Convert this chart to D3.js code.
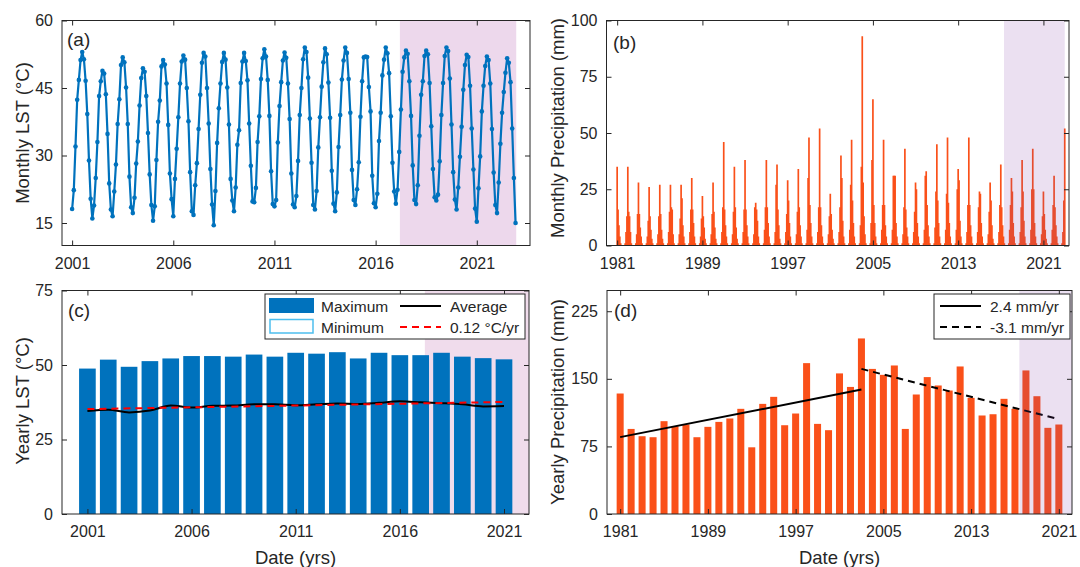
<!DOCTYPE html>
<html>
<head>
<meta charset="utf-8">
<script src="https://cdn.jsdelivr.net/npm/d3@7"></script>
<style>
  body { margin: 0; background: #fff; }
  svg { display: block; font-family: "Liberation Sans", Arial, Helvetica, sans-serif; }
</style>
</head>
<body>
<svg id="fig" width="1080" height="567"></svg>
<script>
// ---------------- data ----------------
// (a) monthly land surface temperature, one row per year (Jan..Dec), 2001-2022
const lstStartYear = 2001;
const monthlyLST = [
  [18.1, 22.3, 32.0, 42.4, 46.8, 51.2, 53.0, 51.4, 46.6, 39.2, 28.9, 20.4],
  [16.0, 18.9, 25.0, 33.0, 43.2, 46.5, 48.8, 48.2, 43.6, 34.8, 23.8, 18.0],
  [16.5, 22.0, 28.0, 37.0, 42.5, 50.1, 51.8, 50.7, 45.1, 37.0, 25.3, 18.5],
  [17.2, 20.6, 28.2, 33.1, 41.1, 47.2, 49.4, 48.6, 43.2, 35.0, 25.8, 19.0],
  [15.5, 18.7, 29.0, 37.5, 42.2, 49.8, 51.2, 50.2, 46.0, 36.8, 26.0, 20.3],
  [16.5, 24.8, 31.5, 38.5, 46.0, 50.9, 52.2, 51.3, 45.0, 37.6, 26.3, 17.6],
  [16.8, 23.4, 28.3, 35.9, 43.5, 50.6, 52.8, 52.0, 45.0, 37.1, 27.0, 19.1],
  [14.5, 22.1, 32.8, 40.5, 46.0, 50.8, 52.8, 51.3, 45.1, 36.9, 24.8, 20.0],
  [17.6, 22.9, 32.4, 35.6, 46.1, 50.9, 52.8, 51.0, 46.7, 37.1, 27.7, 19.8],
  [19.6, 22.8, 33.0, 38.7, 47.0, 51.6, 53.6, 52.0, 46.8, 38.8, 26.5, 19.2],
  [18.7, 20.1, 32.9, 41.0, 46.3, 51.1, 52.9, 51.7, 46.0, 38.1, 26.0, 19.1],
  [18.5, 21.0, 28.8, 39.0, 45.0, 51.4, 54.0, 53.0, 47.3, 38.2, 28.4, 19.0],
  [18.0, 22.1, 31.8, 38.5, 45.3, 50.7, 53.8, 52.5, 46.2, 38.4, 26.6, 19.3],
  [17.6, 21.8, 31.9, 39.0, 46.9, 51.1, 54.0, 52.8, 47.0, 39.5, 26.8, 20.1],
  [19.0, 22.5, 28.5, 38.6, 46.5, 51.8, 52.0, 51.9, 45.2, 39.8, 25.5, 19.4],
  [18.5, 21.5, 33.2, 39.5, 47.8, 51.3, 54.0, 52.7, 48.3, 38.7, 28.4, 22.0],
  [19.3, 22.4, 30.8, 40.2, 48.6, 51.8, 53.3, 52.6, 46.5, 38.8, 27.8, 20.1],
  [19.2, 23.4, 34.4, 43.5, 46.5, 52.1, 53.3, 52.5, 46.1, 36.5, 27.0, 20.7],
  [20.0, 21.3, 28.7, 39.0, 46.1, 52.1, 54.0, 53.2, 47.1, 36.9, 26.3, 20.2],
  [18.0, 22.9, 29.7, 36.4, 44.6, 50.1, 52.4, 51.9, 45.5, 36.0, 26.9, 18.2],
  [15.3, 22.7, 29.8, 39.8, 45.5, 49.9, 52.0, 51.2, 46.0, 35.9, 26.2, 19.0],
  [17.2, 24.0, 32.6, 39.5, 44.1, 48.4, 51.6, 50.6, 46.3, 36.0, 25.0, 15.0]
];

// (b) monthly precipitation (mm), one row per year (Jan..Dec), 1981-2022 plus Jan 2023
const precipStartYear = 1981;
const monthlyPrecip = [
  [35, 16, 9, 4, 1, 0, 0, 0, 0, 1, 6, 13],
  [35, 15, 13, 6, 1, 0, 0, 0, 0, 1, 5, 14],
  [28, 14, 8, 4, 1, 0, 0, 0, 0, 1, 4, 11],
  [26, 13, 7, 3, 1, 0, 0, 0, 0, 1, 5, 13],
  [27, 14, 7, 3, 1, 0, 0, 0, 0, 1, 6, 15],
  [27, 17, 16, 5, 1, 0, 0, 0, 0, 1, 5, 12],
  [27, 21, 9, 4, 1, 0, 0, 0, 0, 1, 6, 16],
  [30, 16, 10, 4, 1, 0, 0, 0, 0, 1, 4, 12],
  [22, 13, 8, 3, 1, 0, 0, 0, 0, 1, 5, 14],
  [28, 15, 8, 3, 1, 0, 0, 0, 0, 1, 6, 17],
  [46, 16, 9, 4, 1, 0, 0, 0, 0, 1, 5, 15],
  [35, 17, 8, 3, 1, 0, 0, 0, 0, 1, 6, 16],
  [38, 16, 9, 4, 1, 0, 0, 0, 0, 1, 5, 17],
  [19, 16, 11, 4, 1, 0, 0, 0, 0, 1, 7, 17],
  [38, 17, 10, 4, 1, 0, 0, 0, 0, 1, 6, 27],
  [36, 16, 9, 3, 1, 0, 0, 0, 0, 1, 6, 14],
  [29, 20, 10, 4, 1, 0, 0, 0, 0, 1, 5, 15],
  [34, 17, 9, 4, 1, 0, 0, 0, 0, 1, 7, 30],
  [48, 18, 10, 4, 1, 0, 0, 0, 0, 1, 6, 17],
  [52, 17, 9, 4, 1, 0, 0, 0, 0, 1, 5, 13],
  [23, 14, 7, 3, 1, 0, 0, 0, 0, 1, 6, 17],
  [40, 30, 11, 4, 1, 0, 0, 0, 0, 1, 7, 27],
  [47, 20, 10, 4, 1, 0, 0, 0, 0, 1, 9, 35],
  [93, 28, 13, 5, 1, 0, 0, 0, 0, 1, 10, 38],
  [65, 18, 10, 4, 1, 0, 0, 0, 0, 1, 7, 18],
  [47, 18, 9, 4, 1, 0, 0, 0, 0, 1, 7, 31],
  [31, 31, 10, 4, 1, 0, 0, 0, 0, 1, 5, 17],
  [43, 16, 8, 4, 1, 0, 0, 0, 0, 1, 6, 15],
  [28, 25, 10, 4, 1, 0, 0, 0, 0, 1, 7, 31],
  [33, 18, 9, 4, 1, 0, 0, 0, 0, 1, 8, 24],
  [45, 20, 10, 4, 1, 0, 0, 0, 0, 1, 7, 23],
  [48, 19, 10, 4, 1, 0, 0, 0, 0, 1, 7, 25],
  [34, 29, 11, 4, 1, 0, 0, 0, 0, 1, 6, 18],
  [48, 18, 9, 4, 1, 0, 0, 0, 0, 1, 6, 17],
  [24, 23, 10, 4, 1, 0, 0, 0, 0, 1, 5, 15],
  [28, 20, 9, 3, 1, 0, 0, 0, 0, 1, 6, 18],
  [36, 17, 9, 4, 1, 0, 0, 0, 0, 1, 7, 18],
  [30, 24, 10, 4, 1, 0, 0, 0, 0, 1, 6, 17],
  [38, 24, 11, 4, 1, 0, 0, 0, 0, 1, 7, 25],
  [43, 25, 10, 4, 1, 0, 0, 0, 0, 1, 5, 13],
  [24, 14, 7, 3, 1, 0, 0, 0, 0, 1, 7, 18],
  [31, 17, 9, 4, 1, 0, 0, 0, 0, 1, 6, 20],
  [52]
];

// (c) yearly LST
const yearsLST = [2001, 2002, 2003, 2004, 2005, 2006, 2007, 2008, 2009, 2010, 2011,
                  2012, 2013, 2014, 2015, 2016, 2017, 2018, 2019, 2020, 2021];
const maxLST = [48.8, 51.8, 49.4, 51.3, 52.2, 53.0, 53.0, 52.8, 53.5, 52.8, 54.1,
                53.8, 54.3, 52.2, 54.1, 53.3, 53.3, 54.1, 52.8, 52.3, 51.9];
const avgLST = [34.6, 35.0, 34.1, 34.7, 36.4, 35.7, 36.3, 36.4, 36.8, 36.8, 36.5,
                36.8, 37.1, 36.9, 37.3, 37.8, 37.5, 37.2, 36.8, 36.1, 36.2];
const lstTrendStart = 35.2;   // °C in 2001
const lstTrendSlope = 0.12;   // °C per year

// (d) yearly precipitation (mm)
const yearsPrecip = [1981, 1982, 1983, 1984, 1985, 1986, 1987, 1988, 1989, 1990, 1991,
                     1992, 1993, 1994, 1995, 1996, 1997, 1998, 1999, 2000, 2001, 2002,
                     2003, 2004, 2005, 2006, 2007, 2008, 2009, 2010, 2011, 2012, 2013,
                     2014, 2015, 2016, 2017, 2018, 2019, 2020, 2021];
const yearlyPrecip = [133.7, 94.4, 86.3, 85.2, 103.0, 97.4, 99.3, 85.2, 96.7, 102.2, 106.0,
                      116.7, 74.0, 122.2, 130.0, 98.5, 111.5, 167.4, 100.0, 93.0, 156.0, 141.0,
                      194.8, 161.0, 154.4, 164.8, 94.4, 132.6, 151.9, 142.6, 137.0, 163.7, 128.9,
                      109.3, 110.7, 127.8, 116.7, 159.3, 130.7, 95.6, 99.3];
const wetTrendYears = [1981, 2003];
const wetTrendStart = 85.3;   // mm
const wetTrendSlope = 2.4;    // mm per year
const dryTrendYears = [2003, 2021];
const dryTrendStart = 161.0;  // mm
const dryTrendSlope = -3.1;   // mm per year

// axis ticks
const ticksA_x = [2001, 2006, 2011, 2016, 2021];
const ticksA_y = [15, 30, 45, 60];
const ticksB_x = [1981, 1989, 1997, 2005, 2013, 2021];
const ticksB_y = [0, 25, 50, 75, 100];
const ticksC_y = [0, 25, 50, 75];
const ticksD_y = [0, 75, 150, 225];

// highlighted recent period
const shadeA = [2017.2, 2022.95];
const shadeB = [2017.3, 2023.0];
const shadeC = [2017.2, 2022.2];
const shadeD = [2017.4, 2022.2];

// ---------------- drawing ----------------
const ink = '#262626';
const blue = '#0072BD';
const orange = '#FA5019';
const minEdge = '#4DBEEE';
const tickFont = 16;
const labelFont = 18.5;

const svg = d3.select('#fig');

function drawAxes(g, box, x, y, xt, yt) {
  const styleAxis = sel => {
    sel.select('.domain').remove();
    sel.selectAll('line').attr('stroke', ink).attr('stroke-width', 1);
    sel.selectAll('text').attr('fill', ink).attr('font-size', tickFont)
       .attr('font-family', '"Liberation Sans", Arial, sans-serif');
  };
  g.append('g').attr('transform', `translate(0,${box.b})`)
    .call(d3.axisBottom(x).tickValues(xt).tickSizeInner(-5).tickSizeOuter(0).tickPadding(12).tickFormat(d3.format('d')))
    .call(styleAxis);
  g.append('g').attr('transform', `translate(${box.l},0)`)
    .call(d3.axisLeft(y).tickValues(yt).tickSizeInner(-5).tickSizeOuter(0).tickPadding(9).tickFormat(d3.format('d')))
    .call(styleAxis);
  g.append('g').attr('transform', `translate(0,${box.t})`)
    .call(d3.axisTop(x).tickValues(xt).tickSizeInner(-5).tickSizeOuter(0).tickFormat(() => ''))
    .call(styleAxis);
  g.append('g').attr('transform', `translate(${box.r},0)`)
    .call(d3.axisRight(y).tickValues(yt).tickSizeInner(-5).tickSizeOuter(0).tickFormat(() => ''))
    .call(styleAxis);
  g.append('rect')
    .attr('x', box.l).attr('y', box.t)
    .attr('width', box.r - box.l).attr('height', box.b - box.t)
    .attr('fill', 'none').attr('stroke', ink).attr('stroke-width', 1);
}

function yTitle(text, cx, cy) {
  svg.append('text')
    .attr('transform', `translate(${cx},${cy}) rotate(-90)`)
    .attr('text-anchor', 'middle').attr('dominant-baseline', 'central')
    .attr('font-size', labelFont).attr('fill', ink).text(text);
}

function panelTag(text, x, y) {
  svg.append('text').attr('x', x).attr('y', y)
    .attr('font-size', 19).attr('fill', ink).text(text);
}

function shade(g, box, x, period, color) {
  const x0 = Math.max(box.l, x(period[0]));
  const x1 = Math.min(box.r, x(period[1]));
  g.append('rect')
    .attr('x', x0).attr('y', box.t)
    .attr('width', x1 - x0).attr('height', box.b - box.t)
    .attr('fill', color);
}

// ---- (a) Monthly LST ----
{
  const box = { l: 62, r: 530, t: 20.5, b: 245.5 };
  const x = d3.scaleLinear().domain([2000.5, 2023.63]).range([box.l, box.r]);
  const y = d3.scaleLinear().domain([10, 60]).range([box.b, box.t]);
  const pts = monthlyLST.flatMap((row, i) =>
    row.map((v, m) => ({ t: lstStartYear + i + m / 12, v })));
  const g = svg.append('g');
  shade(g, box, x, shadeA, '#EDD8EC');
  g.append('path').datum(pts)
    .attr('fill', 'none').attr('stroke', blue).attr('stroke-width', 2.2)
    .attr('stroke-linejoin', 'round')
    .attr('d', d3.line().x(d => x(d.t)).y(d => y(d.v)));
  g.selectAll('circle').data(pts).join('circle')
    .attr('cx', d => x(d.t)).attr('cy', d => y(d.v)).attr('r', 2.3)
    .attr('fill', blue);
  drawAxes(g, box, x, y, ticksA_x, ticksA_y);
  panelTag('(a)', 67, 46);
  yTitle('Monthly LST (°C)', 22, 133);
}

// ---- (b) Monthly precipitation ----
{
  const box = { l: 606.5, r: 1069, t: 20.5, b: 245.5 };
  const x = d3.scaleLinear().domain([1980.0, 2023.4]).range([box.l, box.r]);
  const y = d3.scaleLinear().domain([0, 100]).range([box.b, box.t]);
  const pts = monthlyPrecip.flatMap((row, i) =>
    row.map((v, m) => ({ t: precipStartYear + i + m / 12, v })));
  const w = (x(precipStartYear + 1 / 12) - x(precipStartYear)) * 1.9;
  const g = svg.append('g');
  g.selectAll('rect.bar').data(pts).join('rect').attr('class', 'bar')
    .attr('x', d => x(d.t) - w / 2).attr('width', w)
    .attr('y', d => y(d.v)).attr('height', d => y(0) - y(d.v))
    .attr('fill', orange);
  shade(g, box, x, shadeB, 'rgba(130, 60, 170, 0.16)');
  drawAxes(g, box, x, y, ticksB_x, ticksB_y);
  panelTag('(b)', 613, 49);
  yTitle('Monthly Precipitation (mm)', 557, 128);
}

// ---- (c) Yearly LST ----
{
  const box = { l: 62, r: 529, t: 290.5, b: 514 };
  const x = d3.scaleLinear().domain([1999.78, 2022.2]).range([box.l, box.r]);
  const y = d3.scaleLinear().domain([0, 75]).range([box.b, box.t]);
  const bw = (x(2002) - x(2001)) * 0.8;
  const g = svg.append('g');
  shade(g, box, x, shadeC, '#F0DCEC');
  g.selectAll('rect.bar').data(yearsLST).join('rect').attr('class', 'bar')
    .attr('x', (d) => x(d) - bw / 2).attr('width', bw)
    .attr('y', (d, i) => y(maxLST[i])).attr('height', (d, i) => y(0) - y(maxLST[i]))
    .attr('fill', blue);
  g.append('path').datum(yearsLST)
    .attr('fill', 'none').attr('stroke', '#000').attr('stroke-width', 2)
    .attr('d', d3.line().curve(d3.curveMonotoneX).x(d => x(d)).y((d, i) => y(avgLST[i])));
  const t0 = yearsLST[0], t1 = yearsLST[yearsLST.length - 1];
  g.append('line')
    .attr('x1', x(t0)).attr('y1', y(lstTrendStart))
    .attr('x2', x(t1)).attr('y2', y(lstTrendStart + lstTrendSlope * (t1 - t0)))
    .attr('stroke', '#FF0000').attr('stroke-width', 2).attr('stroke-dasharray', '7,5');
  drawAxes(g, box, x, y, ticksA_x, ticksC_y);

  // legend
  const lg = g.append('g');
  lg.append('rect').attr('x', 265).attr('y', 294).attr('width', 260).attr('height', 45)
    .attr('fill', '#fff').attr('stroke', ink).attr('stroke-width', 1);
  lg.append('rect').attr('x', 269).attr('y', 298).attr('width', 45).attr('height', 15).attr('fill', blue);
  lg.append('rect').attr('x', 270).attr('y', 319.5).attr('width', 43).attr('height', 13.5)
    .attr('fill', '#fff').attr('stroke', minEdge).attr('stroke-width', 1.5);
  lg.append('line').attr('x1', 400).attr('x2', 441).attr('y1', 306).attr('y2', 306)
    .attr('stroke', '#000').attr('stroke-width', 2);
  lg.append('line').attr('x1', 400).attr('x2', 441).attr('y1', 327).attr('y2', 327)
    .attr('stroke', '#FF0000').attr('stroke-width', 2).attr('stroke-dasharray', '7,5');
  const legText = [['Maximum', 321, 306], ['Minimum', 321, 327], ['Average', 450, 306],
                   [`${lstTrendSlope} °C/yr`, 450, 327]];
  legText.forEach(([s, lx, ly]) => lg.append('text').attr('x', lx).attr('y', ly)
    .attr('dominant-baseline', 'central').attr('font-size', 15.5).attr('fill', ink).text(s));

  panelTag('(c)', 68, 317);
  yTitle('Yearly LST (°C)', 22, 401);
  svg.append('text').attr('x', (box.l + box.r) / 2).attr('y', 557)
    .attr('text-anchor', 'middle').attr('dominant-baseline', 'central')
    .attr('font-size', labelFont).attr('fill', ink).text('Date (yrs)');
}

// ---- (d) Yearly precipitation ----
{
  const box = { l: 607, r: 1072, t: 290.5, b: 514 };
  const x = d3.scaleLinear().domain([1979.8, 2022.2]).range([box.l, box.r]);
  const y = d3.scaleLinear().domain([0, 248]).range([box.b, box.t]);
  const bw = (x(1982) - x(1981)) * 0.64;
  const g = svg.append('g');
  g.selectAll('rect.bar').data(yearsPrecip).join('rect').attr('class', 'bar')
    .attr('x', d => x(d) - bw / 2).attr('width', bw)
    .attr('y', (d, i) => y(yearlyPrecip[i])).attr('height', (d, i) => y(0) - y(yearlyPrecip[i]))
    .attr('fill', orange);
  const trend = (yrs, start, slope) => [
    [yrs[0], start], [yrs[1], start + slope * (yrs[1] - yrs[0])]];
  const wet = trend(wetTrendYears, wetTrendStart, wetTrendSlope);
  const dry = trend(dryTrendYears, dryTrendStart, dryTrendSlope);
  const ln = d3.line().x(d => x(d[0])).y(d => y(d[1]));
  g.append('path').attr('d', ln(wet)).attr('fill', 'none')
    .attr('stroke', '#000').attr('stroke-width', 2);
  g.append('path').attr('d', ln(dry)).attr('fill', 'none')
    .attr('stroke', '#000').attr('stroke-width', 2).attr('stroke-dasharray', '7,5');
  shade(g, box, x, shadeD, 'rgba(130, 60, 170, 0.16)');
  drawAxes(g, box, x, y, ticksB_x, ticksD_y);

  const lg = g.append('g');
  lg.append('rect').attr('x', 934).attr('y', 294).attr('width', 136).attr('height', 45)
    .attr('fill', '#fff').attr('stroke', ink).attr('stroke-width', 1);
  lg.append('line').attr('x1', 940).attr('x2', 981).attr('y1', 306).attr('y2', 306)
    .attr('stroke', '#000').attr('stroke-width', 2);
  lg.append('line').attr('x1', 940).attr('x2', 981).attr('y1', 327).attr('y2', 327)
    .attr('stroke', '#000').attr('stroke-width', 2).attr('stroke-dasharray', '7,5');
  [[`${wetTrendSlope} mm/yr`, 306], [`${dryTrendSlope} mm/yr`, 327]].forEach(([s, ly]) =>
    lg.append('text').attr('x', 990).attr('y', ly).attr('dominant-baseline', 'central')
      .attr('font-size', 15.5).attr('fill', ink).text(s));

  panelTag('(d)', 614, 317);
  yTitle('Yearly Precipitation (mm)', 557, 402);
  svg.append('text').attr('x', (box.l + box.r) / 2).attr('y', 557)
    .attr('text-anchor', 'middle').attr('dominant-baseline', 'central')
    .attr('font-size', labelFont).attr('fill', ink).text('Date (yrs)');
}
</script>
</body>
</html>
